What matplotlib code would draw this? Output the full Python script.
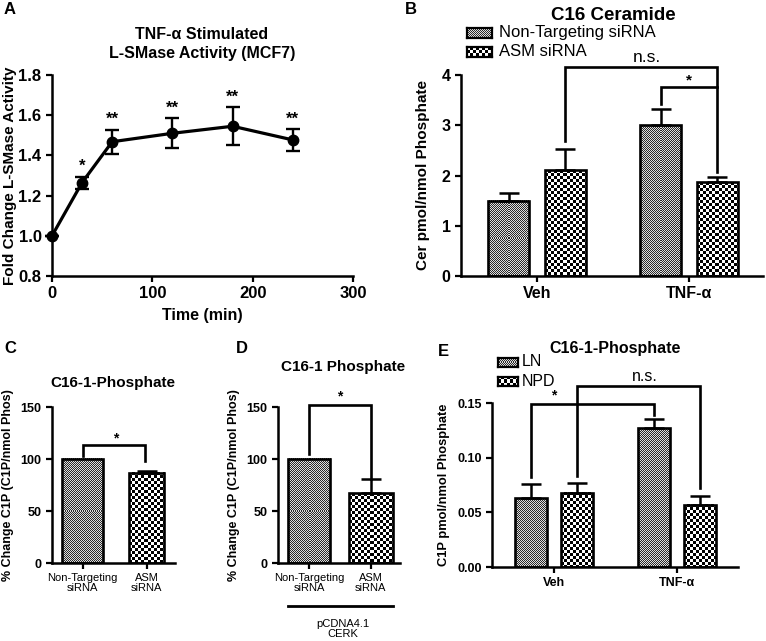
import matplotlib
matplotlib.use("Agg")
import matplotlib.pyplot as plt
import numpy as np

plt.rcParams["font.family"] = ["Liberation Sans", "DejaVu Sans"]

# Panel A: L-SMase time course
time_min = [0, 30, 60, 120, 180, 240]
lsmase_fold = [1.0, 1.265, 1.468, 1.51, 1.545, 1.477]
lsmase_err = [0.0, 0.03, 0.06, 0.075, 0.095, 0.055]
lsmase_sig = ["", "*", "**", "**", "**", "**"]

# Panel B: C16 ceramide
groups = ["Veh", "TNF-α"]
cer_nt = [1.5, 3.0]
cer_nt_err = [0.16, 0.32]
cer_asm = [2.1, 1.87]
cer_asm_err = [0.42, 0.10]

# Panels C and D: % change C1P
sirna_labels = ["Non-Targeting\nsiRNA", "ASM\nsiRNA"]
c1p_pct_c = [100, 87]
c1p_pct_c_err = [0, 1]
c1p_pct_d = [100, 67]
c1p_pct_d_err = [0, 14]

# Panel E: C16-1-phosphate LN vs NPD
c1p_ln = [0.063, 0.127]
c1p_ln_err = [0.013, 0.008]
c1p_npd = [0.068, 0.057]
c1p_npd_err = [0.009, 0.008]

W, H = 766, 641
fig = plt.figure(figsize=(W / 100, H / 100), dpi=100)

FINE = (1, "#2a2a2a", "#dedede")   # cell px, dark, light
COARSE = (3, "#000000", "#ffffff")
bars_to_fill = []
bold = dict(fontweight="bold")


def add_ax(left, right, top, bottom):
    # pixel box -> figure fraction
    return fig.add_axes([left / W, 1 - bottom / H, (right - left) / W, (bottom - top) / H])


def style(ax):
    ax.spines["top"].set_visible(False)
    ax.spines["right"].set_visible(False)
    ax.spines["left"].set_linewidth(1.8)
    ax.spines["bottom"].set_linewidth(1.8)
    ax.tick_params(width=1.6, length=4, direction="out")


def checker(w, h, pat):
    cell, dark, light = pat
    arr = ((np.arange(h)[:, None] // cell + np.arange(w)[None, :] // cell) % 2).astype(bool)
    d = np.array(matplotlib.colors.to_rgb(dark))
    l = np.array(matplotlib.colors.to_rgb(light))
    return np.where(arr[..., None], d, l)


def draw_bar(ax, x, h, err, w, pat):
    ax.bar(x, h, w, fill=False, edgecolor="black", linewidth=1.9, zorder=3)
    bars_to_fill.append((ax, x - w / 2, x + w / 2, h, pat))
    if err > 0:
        ax.errorbar(x, h, yerr=[[0], [err]], fmt="none", ecolor="black", elinewidth=1.8,
                    capsize=7.5, capthick=1.8, zorder=3)


def fill_bars():
    # checkerboard fill, drawn at one image pixel per screen pixel
    for ax, x0, x1, h, pat in bars_to_fill:
        p0 = ax.transData.transform((x0, 0))
        p1 = ax.transData.transform((x1, h))
        wpx = max(int(round(p1[0] - p0[0])), 1)
        hpx = max(int(round(p1[1] - p0[1])), 1)
        ax.imshow(checker(wpx, hpx, pat), extent=(x0, x1, 0, h), aspect="auto",
                  interpolation="nearest", zorder=2)


def swatch(left, top, w, h, pat):
    sa = fig.add_axes([left / W, 1 - (top + h) / H, w / W, h / H])
    sa.imshow(checker(w, h, pat), aspect="auto", interpolation="nearest")
    sa.set_xticks([])
    sa.set_yticks([])
    for s in sa.spines.values():
        s.set_linewidth(1.6)


def bracket(ax, x1, y1, x2, y2, ytop):
    ax.plot([x1, x1, x2, x2], [y1, ytop, ytop, y2], color="black", lw=1.9,
            clip_on=False, zorder=4, solid_joinstyle="miter")


# ---------------- Panel A ----------------
axA = add_ax(52, 353, 75, 276)
style(axA)
axA.errorbar(time_min, lsmase_fold, yerr=lsmase_err, color="black", lw=2.3, marker="o",
             markersize=7.5, capsize=5, capthick=1.7, elinewidth=1.7, clip_on=False, zorder=3)
for t, v, e, s in zip(time_min, lsmase_fold, lsmase_err, lsmase_sig):
    if s:
        axA.text(t, v + e + 0.012, s, ha="center", va="bottom", fontsize=12, **bold)
axA.set_xlim(0, 300)
axA.set_ylim(0.8, 1.8)
axA.set_xticks([0, 100, 200, 300])
axA.set_yticks([0.8, 1.0, 1.2, 1.4, 1.6, 1.8])
axA.set_yticklabels(["0.8", "1.0", "1.2", "1.4", "1.6", "1.8"])
for lab in axA.get_xticklabels() + axA.get_yticklabels():
    lab.set_fontweight("bold")
    lab.set_fontsize(12)
axA.set_xlabel("Time (min)", fontsize=11.5, labelpad=5, **bold)
axA.set_ylabel("Fold Change L-SMase Activity", fontsize=11, **bold)
axA.yaxis.set_label_coords(-0.116, 0.5)
fig.text(202 / W, 1 - 44 / H, "TNF-α Stimulated\nL-SMase Activity (MCF7)", ha="center",
         va="center", fontsize=11.5, linespacing=1.3, **bold)

# ---------------- Panel B ----------------
axB = add_ax(461, 763, 75, 276)
style(axB)
xg = np.arange(len(groups))
off, bw = 0.185, 0.27
for i in range(len(groups)):
    draw_bar(axB, xg[i] - off, cer_nt[i], cer_nt_err[i], bw, FINE)
    draw_bar(axB, xg[i] + off, cer_asm[i], cer_asm_err[i], bw, COARSE)
axB.set_xlim(-0.5, 1.487)
axB.set_ylim(0, 4)
axB.set_yticks([0, 1, 2, 3, 4])
axB.set_xticks(xg)
axB.set_xticklabels(groups)
for lab in axB.get_xticklabels() + axB.get_yticklabels():
    lab.set_fontweight("bold")
    lab.set_fontsize(11.5)
axB.set_ylabel("Cer pmol/nmol Phosphate", fontsize=11, labelpad=8, **bold)
bracket(axB, xg[0] + off, 2.68, xg[1] + off, 2.06, 4.16)
bracket(axB, xg[1] - off, 3.42, xg[1] + off, 3.76, 3.76)
axB.text(0.72, 4.34, "n.s.", ha="center", va="center", fontsize=12.5)
axB.text(1.0, 3.9, "*", ha="center", va="center", fontsize=11, **bold)
fig.text(613 / W, 1 - 15 / H, "C16 Ceramide", ha="center", va="center", fontsize=13.5, **bold)
swatch(467, 28, 25, 10, FINE)
swatch(467, 47, 25, 10, COARSE)
fig.text(499 / W, 1 - 33 / H, "Non-Targeting siRNA", ha="left", va="center", fontsize=12)
fig.text(499 / W, 1 - 52 / H, "ASM siRNA", ha="left", va="center", fontsize=12)

# ---------------- Panel C ----------------
axC = add_ax(52, 175, 407, 563)
style(axC)
xs = np.arange(2)
draw_bar(axC, xs[0], c1p_pct_c[0], c1p_pct_c_err[0], 0.64, FINE)
draw_bar(axC, xs[1], c1p_pct_c[1], c1p_pct_c_err[1], 0.55, COARSE)
axC.set_xlim(-0.48, 1.44)
axC.set_ylim(0, 150)
axC.set_yticks([0, 50, 100, 150])
axC.set_xticks(xs)
axC.set_xticklabels(sirna_labels, fontsize=8, linespacing=1.0)
for lab in axC.get_yticklabels():
    lab.set_fontweight("bold")
    lab.set_fontsize(9)
axC.set_ylabel("% Change C1P (C1P/nmol Phos)", fontsize=9, labelpad=5, **bold)
bracket(axC, xs[0], 103, 0.97, 98, 113.5)
axC.text(0.52, 120, "*", ha="center", va="center", fontsize=10, **bold)
fig.text(113 / W, 1 - 383 / H, "C16-1-Phosphate", ha="center", va="center", fontsize=11, **bold)

# ---------------- Panel D ----------------
axD = add_ax(278, 400, 407, 563)
style(axD)
draw_bar(axD, xs[0], c1p_pct_d[0], c1p_pct_d_err[0], 0.68, FINE)
draw_bar(axD, xs[1], c1p_pct_d[1], c1p_pct_d_err[1], 0.7, COARSE)
axD.set_xlim(-0.5, 1.47)
axD.set_ylim(0, 150)
axD.set_yticks([0, 50, 100, 150])
axD.set_xticks(xs)
axD.set_xticklabels(sirna_labels, fontsize=8, linespacing=1.0)
for lab in axD.get_yticklabels():
    lab.set_fontweight("bold")
    lab.set_fontsize(9)
axD.set_ylabel("% Change C1P (C1P/nmol Phos)", fontsize=9, labelpad=5, **bold)
bracket(axD, xs[0], 105, xs[1], c1p_pct_d[1] + c1p_pct_d_err[1], 152)
axD.text(0.5, 160, "*", ha="center", va="center", fontsize=10, **bold)
fig.text(343 / W, 1 - 367 / H, "C16-1 Phosphate", ha="center", va="center", fontsize=11, **bold)
fig.add_artist(plt.Line2D([288 / W, 393 / W], [1 - 606 / H, 1 - 606 / H], color="black", lw=2))
fig.text(343 / W, 1 - 629 / H, "pCDNA4.1\nCERK", ha="center", va="center", fontsize=8,
         linespacing=1.0)

# ---------------- Panel E ----------------
axE = add_ax(492, 738, 403, 567)
style(axE)
offE, bwE = 0.187, 0.26
for i in range(len(groups)):
    draw_bar(axE, xg[i] - offE, c1p_ln[i], c1p_ln_err[i], bwE, FINE)
    draw_bar(axE, xg[i] + offE, c1p_npd[i], c1p_npd_err[i], bwE, COARSE)
axE.set_xlim(-0.504, 1.496)
axE.set_ylim(0, 0.15)
axE.set_yticks([0, 0.05, 0.10, 0.15])
axE.set_yticklabels(["0.00", "0.05", "0.10", "0.15"])
axE.set_xticks(xg)
axE.set_xticklabels(groups)
for lab in axE.get_xticklabels() + axE.get_yticklabels():
    lab.set_fontweight("bold")
    lab.set_fontsize(9)
axE.set_ylabel("C1P pmol/nmol Phosphate", fontsize=9.3, labelpad=5, **bold)
bracket(axE, xg[0] - offE, 0.082, xg[1] - offE, 0.139, 0.149)
bracket(axE, xg[0] + offE, 0.083, xg[1] + offE, 0.072, 0.1655)
axE.text(0.0, 0.157, "*", ha="center", va="center", fontsize=10, **bold)
axE.text(0.74, 0.174, "n.s.", ha="center", va="center", fontsize=11.5)
fig.text(615 / W, 1 - 348 / H, "C16-1-Phosphate", ha="center", va="center", fontsize=11.5, **bold)
swatch(498, 358, 20, 9, FINE)
swatch(498, 377, 20, 9, COARSE)
fig.text(522 / W, 1 - 362 / H, "LN", ha="left", va="center", fontsize=11.5)
fig.text(522 / W, 1 - 382 / H, "NPD", ha="left", va="center", fontsize=11.5)

fill_bars()

# panel letters
for letter, px, py in [("A", 10, 10), ("B", 411, 10), ("C", 10, 348), ("D", 242, 348),
                       ("E", 443, 352)]:
    fig.text(px / W, 1 - py / H, letter, ha="center", va="center", fontsize=12, **bold)

fig.savefig("out.png", dpi=100)
